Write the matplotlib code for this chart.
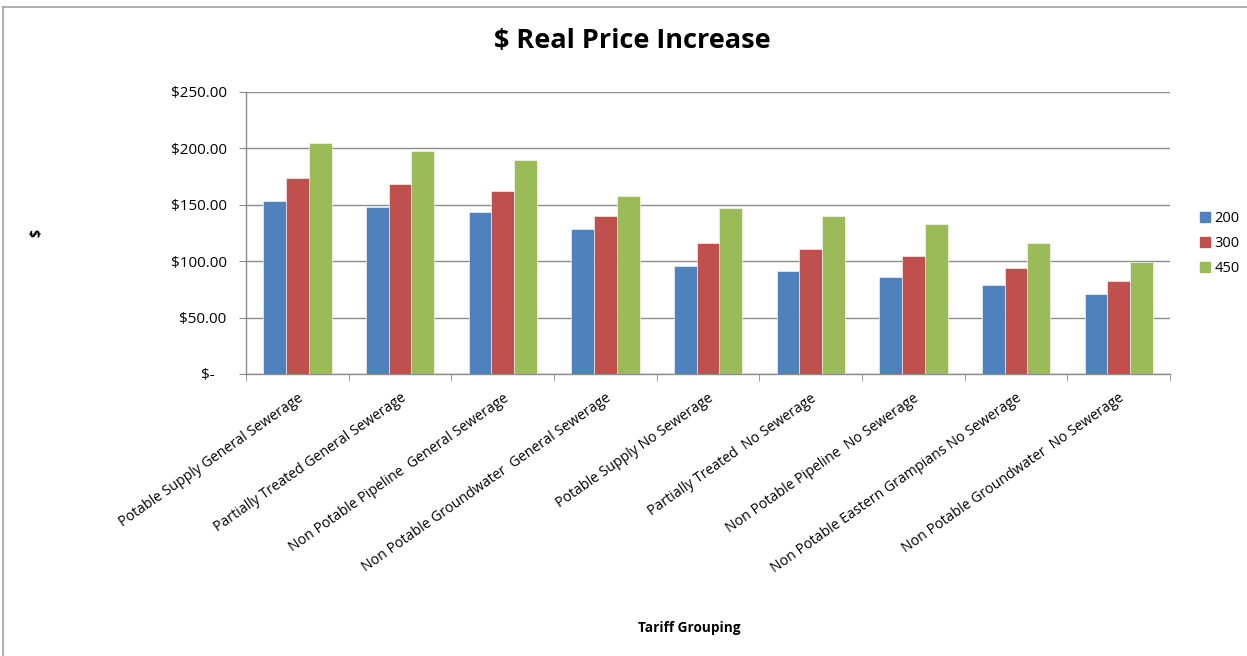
import numpy as np
import matplotlib.pyplot as plt
from matplotlib.ticker import FuncFormatter, FixedLocator
from matplotlib.lines import Line2D

plt.rcParams['font.family'] = ['Open Sans', 'DejaVu Sans']

groups = ['Potable Supply General Sewerage',
          'Partially Treated General Sewerage',
          'Non Potable Pipeline  General Sewerage',
          'Non Potable Groundwater  General Sewerage',
          'Potable Supply No Sewerage',
          'Partially Treated  No Sewerage',
          'Non Potable Pipeline  No Sewerage',
          'Non Potable Eastern Grampians No Sewerage',
          'Non Potable Groundwater  No Sewerage']
series_names = ['200', '300', '450']
vals_200 = [153.0, 148.3, 143.3, 128.5, 95.5, 90.8, 85.5, 78.4, 71.0]
vals_300 = [173.3, 168.0, 161.9, 140.0, 115.9, 110.3, 104.4, 93.5, 82.3]
vals_450 = [204.3, 197.2, 189.9, 157.4, 146.8, 139.7, 132.4, 116.2, 99.6]
colors = ['#4F81BD', '#C0504D', '#9BBB59']

fig = plt.figure(figsize=(12.47, 6.56), dpi=100)
ax = fig.add_axes([0.1973, 0.4299, 0.7410, 0.4303])

x = np.arange(len(groups))
w = 0.222
for i, (vals, c, name) in enumerate(zip([vals_200, vals_300, vals_450], colors, series_names)):
    ax.bar(x + (i - 1) * w, vals, width=w, color=c, edgecolor='white',
           linewidth=0.4, label=name, zorder=3)

ax.set_xlim(-0.5, len(groups) - 0.5)
ax.set_ylim(0, 250)
ax.set_yticks(np.arange(0, 251, 50))
ax.yaxis.set_major_formatter(FuncFormatter(lambda v, p: '$-   ' if v == 0 else f'${v:,.2f}'))
ax.grid(axis='y', color='#8c8c8c', linewidth=1.0, zorder=0)
for s in ['top', 'right']:
    ax.spines[s].set_visible(False)
for s in ['left', 'bottom']:
    ax.spines[s].set_color('#8c8c8c')
    ax.spines[s].set_linewidth(1.0)
ax.tick_params(axis='y', length=5, color='#8c8c8c', labelsize=11, pad=9)

# category labels on major ticks, tick marks at group boundaries
ax.set_xticks(x)
ax.set_xticklabels(groups, rotation=35, ha='right', va='top',
                   rotation_mode='anchor', fontsize=10.2)
ax.tick_params(axis='x', which='major', length=0, pad=12)
ax.xaxis.set_minor_locator(FixedLocator(np.arange(-0.5, len(groups), 1.0)))
ax.tick_params(axis='x', which='minor', length=5, color='#8c8c8c')

fig.text(0.507, 0.937, '$ Real Price Increase', ha='center', va='center',
         fontsize=19.5, fontweight='bold')
fig.text(0.553, 0.043, 'Tariff Grouping', ha='center', va='center',
         fontsize=9.8, fontweight='bold')
fig.text(0.029, 0.645, '$', ha='center', va='center', rotation=90,
         fontsize=10, fontweight='bold')

handles = [Line2D([0], [0], marker='s', linestyle='none', markersize=7,
                  markerfacecolor=c, markeredgecolor=c) for c in colors]
fig.legend(handles, series_names, loc='center left', bbox_to_anchor=(0.955, 0.629),
           frameon=False, fontsize=10.5, handletextpad=0.1, handlelength=1.0,
           labelspacing=0.7, borderpad=0)

# outer chart border
fig.add_artist(Line2D([0.0024, 1.0], [0.9893, 0.9893], color='#a0a0a0', linewidth=1.2,
                      transform=fig.transFigure))
fig.add_artist(Line2D([0.0024, 0.0024], [0.0, 0.9893], color='#a0a0a0', linewidth=1.2,
                      transform=fig.transFigure))

fig.savefig('out.png', dpi=100)
